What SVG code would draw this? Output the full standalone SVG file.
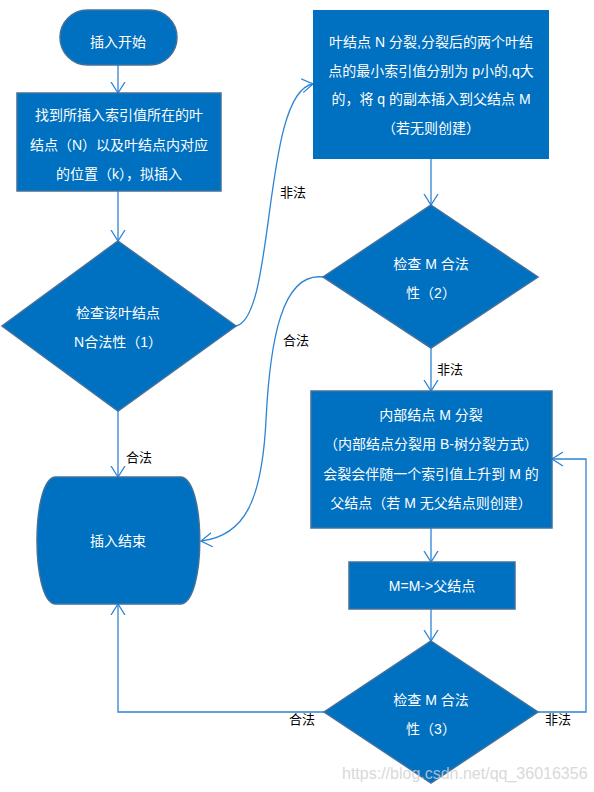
<svg xmlns="http://www.w3.org/2000/svg" width="594" height="792" viewBox="0 0 594 792">
<style>
.shape{fill:#0070C0;stroke:#41719C;stroke-width:1.5}
.t{fill:#fff;font-family:"Liberation Sans","Noto Sans CJK SC",sans-serif;font-size:14px;text-anchor:middle}
.lbl{fill:#000;font-family:"Liberation Sans","Noto Sans CJK SC",sans-serif;font-size:13px}
.c{fill:none;stroke:#2E84D2;stroke-width:1.3}
.wm{fill:#d0d0d0;font-family:"Liberation Sans",sans-serif;font-size:16px;opacity:0.8}
</style>
<defs>
<marker id="arr" markerUnits="userSpaceOnUse" markerWidth="14" markerHeight="16" refX="11" refY="7" orient="auto" viewBox="0 0 14 14">
<path d="M0,0 L11,7 L0,14" fill="none" stroke="#2E84D2" stroke-width="1.3"/>
</marker>
</defs>
<rect width="594" height="792" fill="#fff"/>
<g id="connectors">
<path class="c" d="M118,65 V93" marker-end="url(#arr)"/>
<path class="c" d="M118,191 V241" marker-end="url(#arr)"/>
<path class="c" d="M118,411 V477" marker-end="url(#arr)"/>
<path class="c" d="M236,326 C 276,318 262,92 313,84" marker-end="url(#arr)"/>
<path class="c" d="M431,159 V205" marker-end="url(#arr)"/>
<path class="c" d="M323,277 C 282,272 270,340 266,420 C 262,500 245,536 201,541" marker-end="url(#arr)"/>
<path class="c" d="M431,348 V391" marker-end="url(#arr)"/>
<path class="c" d="M431,528 V562" marker-end="url(#arr)"/>
<path class="c" d="M431,609 V641" marker-end="url(#arr)"/>
<path class="c" d="M538,712 H586 V459 H552" marker-end="url(#arr)"/>
<path class="c" d="M324,712 H118 V604" marker-end="url(#arr)"/>
<text class="lbl" x="280" y="197">非法</text>
<text class="lbl" x="126" y="462">合法</text>
<text class="lbl" x="283" y="345">合法</text>
<text class="lbl" x="437" y="374">非法</text>
<text class="lbl" x="289" y="724">合法</text>
<text class="lbl" x="545" y="724">非法</text>
</g>
<g id="start">
<rect class="shape" x="60" y="10" width="117" height="55" rx="27.5"/>
<text class="t" x="118" y="47">插入开始</text>
</g>
<g id="find">
<rect class="shape" x="17" y="93" width="204" height="98"/>
<text class="t" x="119" y="120">找到所插入索引值所在的叶</text>
<text class="t" x="119" y="150">结点（N）以及叶结点内对应</text>
<text class="t" x="119" y="179">的位置（k），拟插入</text>
</g>
<g id="check1">
<polygon class="shape" points="118,241 236,326 118,411 2,326"/>
<text class="t" x="118" y="318">检查该叶结点</text>
<text class="t" x="118" y="347">N合法性（1）</text>
</g>
<g id="end">
<path class="shape" d="M55,477 H181 C206,480 206,601 181,604 H55 C31,601 31,480 55,477 Z"/>
<text class="t" x="118" y="546">插入结束</text>
</g>
<g id="split-leaf">
<rect x="313" y="10" width="236" height="149" fill="#0070C0"/>
<text class="t" x="431" y="47">叶结点 N 分裂,分裂后的两个叶结</text>
<text class="t" x="431" y="76">点的最小索引值分别为 p小的,q大</text>
<text class="t" x="431" y="104">的，将 q 的副本插入到父结点 M</text>
<text class="t" x="431" y="133">（若无则创建）</text>
</g>
<g id="check2">
<polygon class="shape" points="431,205 538,277 431,348 323,277"/>
<text class="t" x="431" y="269">检查 M 合法</text>
<text class="t" x="431" y="298">性（2）</text>
</g>
<g id="split-internal">
<rect class="shape" x="311" y="391" width="241" height="137"/>
<text class="t" x="431" y="420">内部结点 M 分裂</text>
<text class="t" x="431" y="449">（内部结点分裂用 B-树分裂方式）</text>
<text class="t" x="431" y="479">会裂会伴随一个索引值上升到 M 的</text>
<text class="t" x="431" y="508">父结点（若 M 无父结点则创建）</text>
</g>
<g id="move-up">
<rect class="shape" x="349" y="562" width="166" height="47"/>
<text class="t" x="432" y="591">M=M-&gt;父结点</text>
</g>
<g id="check3">
<polygon class="shape" points="431,641 538,712 431,783 324,712"/>
<text class="t" x="431" y="705">检查 M 合法</text>
<text class="t" x="431" y="734">性（3）</text>
</g>
<text class="wm" x="342" y="779">https://blog.csdn.net/qq_36016356</text>
</svg>
